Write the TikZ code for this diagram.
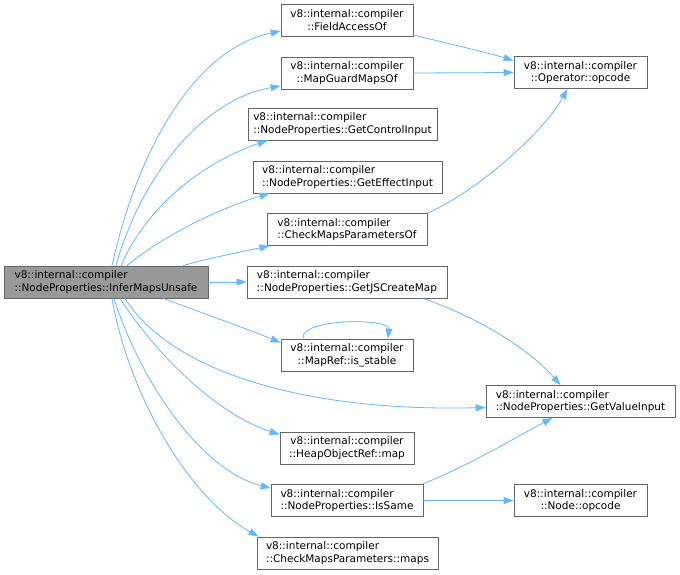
\documentclass[tikz,border=0pt]{standalone}
\usepackage{fontspec}
\setmainfont{DejaVu Sans}
\usepackage{xcolor}
\usetikzlibrary{arrows.meta,calc}
\definecolor{edgeblue}{HTML}{63B8FF}
\definecolor{rootgray}{HTML}{999999}
\definecolor{boxline}{HTML}{666666}

\begin{document}
\begin{tikzpicture}[x=1pt,y=-1pt,
  fn/.style={draw=boxline,fill=white,line width=0.8pt,inner sep=0pt,minimum height=32pt,font=\fontsize{10.5}{12.5}\selectfont},
  fnl/.style={fn,align=left},
  fnc/.style={fn,align=center},
  call/.style={draw=edgeblue,line width=0.8pt,-{Triangle[length=10pt,width=7pt]}}]
\useasboundingbox[fill=white] (0,0) rectangle (680,574);
%\node at (340,0) {call graph};
\node[fnl,fill=rootgray,minimum width=204pt] (infer) at (106,282) {v8::internal::compiler\\::NodeProperties::InferMapsUnsafe};
\node[fnc,minimum width=132pt] (field) at (347,20) {v8::internal::compiler\\::FieldAccessOf};
\node[fnc,minimum width=132pt] (guard) at (347,73) {v8::internal::compiler\\::MapGuardMapsOf};
\node[fnl,minimum width=189pt] (ctrl) at (342.5,124) {v8::internal::compiler\\::NodeProperties::GetControlInput};
\node[fnl,minimum width=189pt] (effect) at (347.5,177) {v8::internal::compiler\\::NodeProperties::GetEffectInput};
\node[fnl,minimum width=160pt] (cmpof) at (347,229.5) {v8::internal::compiler\\::CheckMapsParametersOf};
\node[fnl,minimum width=200pt] (jsmap) at (347,282) {v8::internal::compiler\\::NodeProperties::GetJSCreateMap};
\node[fnc,minimum width=132pt] (stable) at (347,355) {v8::internal::compiler\\::MapRef::is\_stable};
\node[fnc,minimum width=134pt] (heapmap) at (347,448) {v8::internal::compiler\\::HeapObjectRef::map};
\node[fnl,minimum width=152pt] (same) at (347,500.5) {v8::internal::compiler\\::NodeProperties::IsSame};
\node[fnl,minimum width=181pt] (cmpmaps) at (347.5,553) {v8::internal::compiler\\::CheckMapsParameters::maps};
\node[fnc,minimum width=133pt] (opop) at (580.5,72.5) {v8::internal::compiler\\::Operator::opcode};
\node[fnl,minimum width=189pt] (valin) at (580.5,401.5) {v8::internal::compiler\\::NodeProperties::GetValueInput};
\node[fnc,minimum width=133pt] (nodeop) at (580.5,500.5) {v8::internal::compiler\\::Node::opcode};
\draw[call] ($(infer.north)+(6,0)$) .. controls (135,160) and (190,50) .. ($(field.west)+(0,11)$);
\draw[call] ($(infer.north)+(10,0)$) .. controls (140,180) and (200,100) .. ($(guard.west)+(0,13)$);
\draw[call] ($(infer.north)+(15,0)$) .. controls (150,200) and (210,160) .. ($(ctrl.south west)+(20,0)$);
\draw[call] ($(infer.north)+(21,0)$) .. controls (170,230) and (230,205) .. ($(effect.south west)+(17,0)$);
\draw[call] ($(infer.north)+(77,0)$) .. controls (210,258) and (240,252) .. ($(cmpof.south west)+(3,0)$);
\draw[call] (infer.east) -- (jsmap.west);
\draw[call] ($(infer.south)+(57,0)$) .. controls (200,312) and (250,330) .. ($(stable.north west)+(0,4)$);
\draw[call] ($(infer.south)+(19,0)$) .. controls (170,370) and (300,412) .. ($(valin.west)+(0,6)$);
\draw[call] ($(infer.south)+(14,0)$) .. controls (160,360) and (220,415) .. ($(heapmap.north west)+(0,3)$);
\draw[call] ($(infer.south)+(8,0)$) .. controls (140,380) and (200,470) .. ($(same.north west)+(0,4)$);
\draw[call] ($(infer.south)+(6,0)$) .. controls (128,390) and (185,495) .. ($(cmpmaps.north west)+(2,0)$);
\draw[call] ($(field.east)+(0,15)$) .. controls (450,44) and (485,52) .. ($(opop.west)+(0,-12)$);
\draw[call] (guard.east) -- (opop.west);
\draw[call] (cmpof.north east) .. controls (480,190) and (545,130) .. ($(opop.south)+(-13,0)$);
\draw[call] ($(jsmap.south)+(76,0)$) .. controls (480,318) and (530,350) .. ($(valin.north)+(-20,0)$);
\draw[call] ($(same.north east)+(-1,0)$) .. controls (470,465) and (520,435) .. ($(valin.south)+(-28,0)$);
\draw[call] (same.east) -- (nodeop.west);
\draw[call] ($(stable.north)+(-44,0)$) .. controls (300,318) and (390,318) .. ($(stable.north)+(41,0)$);
\end{tikzpicture}
\end{document}
